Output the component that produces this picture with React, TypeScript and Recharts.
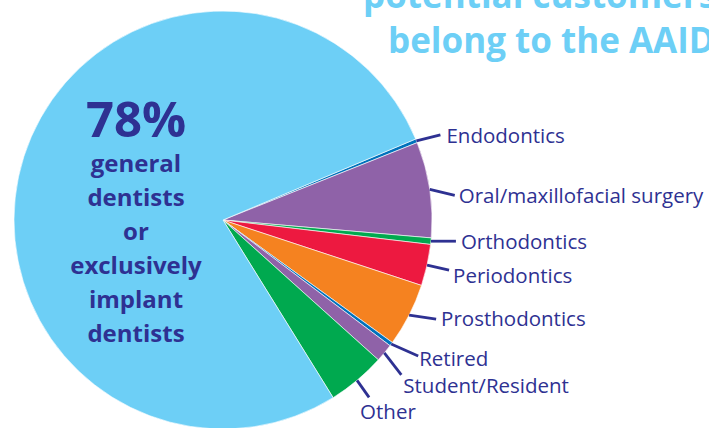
import React from 'react';
import { PieChart, Pie, Cell } from 'recharts';

const CATEGORIES = [
  'Endodontics',
  'Oral/maxillofacial surgery',
  'Orthodontics',
  'Periodontics',
  'Prosthodontics',
  'Retired',
  'Student/Resident',
  'Other',
  'General/implant dentists',
];
const SHARES = [0.3, 7.4, 0.5, 3.2, 4.9, 0.3, 1.4, 4.5, 77.5];
const COLORS = ['#0072BC', '#8F62A8', '#00A94F', '#ED1940', '#F58220', '#0072BC', '#8F62A8', '#00A94F', '#6DCFF6'];
const CENTER_LINES = ['general', 'dentists', 'or', 'exclusively', 'implant', 'dentists'];
const TITLE_LINES = ['potential customers', 'belong to the AAID'];

// leader line end (from slice edge) and text offset (from line end)
const LABEL_LAYOUT = [
  { line: [24, -6], text: [6, 0] },
  { line: [25, 6], text: [4, 0] },
  { line: [25, 0], text: [5, 0] },
  { line: [22, 5], text: [4, 5] },
  { line: [27, 4], text: [5, -1] },
  { line: [27, 12], text: [1, 2] },
  { line: [17, 22], text: [2, 10] },
  { line: [12, 17], text: [-9, 14] },
];

const NAVY = '#2E3192';
const FONT = '"Open Sans", "Noto Sans", sans-serif';
const RADIAN = Math.PI / 180;

const data = CATEGORIES.map((name, i) => ({ name, value: SHARES[i] }));

const renderLabel = (props: any) => {
  const { cx, cy, midAngle, outerRadius, index, name } = props;
  const layout = LABEL_LAYOUT[index];
  if (!layout) return null;
  const x0 = cx + outerRadius * Math.cos(-midAngle * RADIAN);
  const y0 = cy + outerRadius * Math.sin(-midAngle * RADIAN);
  const x1 = x0 + layout.line[0];
  const y1 = y0 + layout.line[1];
  return (
    <g>
      <path d={`M${x0},${y0}L${x1},${y1}`} stroke={NAVY} strokeWidth={2.8} fill="none" />
      <text
        x={x1 + layout.text[0]}
        y={y1 + layout.text[1]}
        fill={NAVY}
        fontSize={20.5}
        fontFamily={FONT}
        dominantBaseline="central"
        textAnchor="start"
      >
        {name}
      </text>
    </g>
  );
};

const App: React.FC = () => {
  return (
    <div style={{ position: 'absolute', left: 0, top: 0, width: 709, height: 428, overflow: 'hidden', background: '#fff' }}>
      <PieChart width={709} height={428} margin={{ top: 0, right: 0, bottom: 0, left: 0 }}>
        <Pie
          data={data}
          dataKey="value"
          nameKey="name"
          cx={223}
          cy={220}
          outerRadius={209}
          startAngle={22.8}
          endAngle={-337.2}
          stroke="#ffffff"
          strokeWidth={0.6}
          label={renderLabel}
          labelLine={false}
          isAnimationActive={false}
        >
          {data.map((entry, index) => (
            <Cell key={`cell-${index}`} fill={COLORS[index % COLORS.length]} />
          ))}
        </Pie>
      </PieChart>
      <svg width={709} height={428} style={{ position: 'absolute', left: 0, top: 0, pointerEvents: 'none' }}>
        <text x={363} y={8} fill="#6DCFF6" fontSize={35} fontWeight={700} fontFamily={FONT}>
          {TITLE_LINES[0]}
        </text>
        <text x={388} y={53} fill="#6DCFF6" fontSize={35} fontWeight={700} fontFamily={FONT}>
          {TITLE_LINES[1]}
        </text>
        <text x={136} y={137} fill={NAVY} fontSize={49} fontWeight={700} fontFamily={FONT} textAnchor="middle">
          78%
        </text>
        {CENTER_LINES.map((line, i) => (
          <text
            key={i}
            x={136}
            y={172 + i * 34}
            fill={NAVY}
            fontSize={24}
            fontWeight={700}
            fontFamily={FONT}
            textAnchor="middle"
          >
            {line}
          </text>
        ))}
      </svg>
    </div>
  );
};

export default App;
